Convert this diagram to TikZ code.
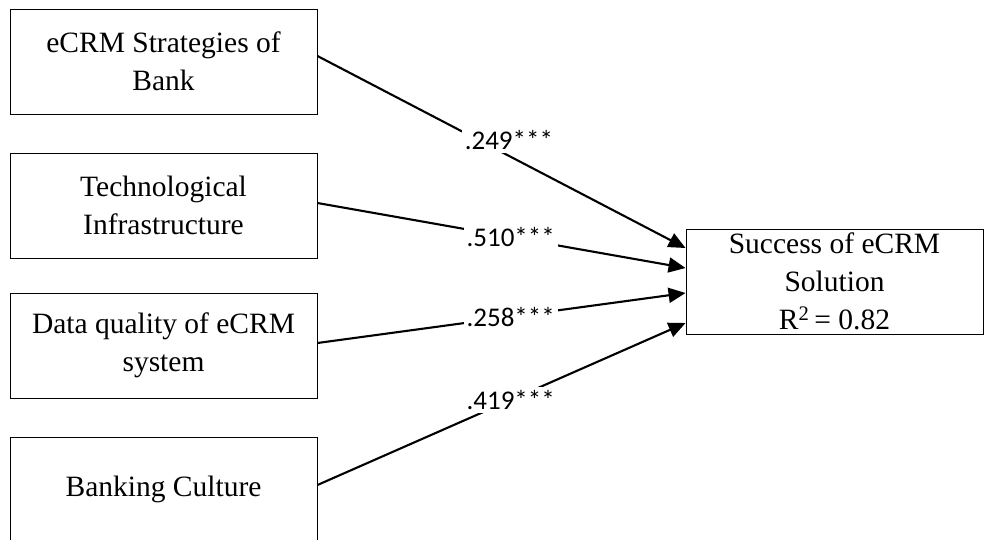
\documentclass[tikz,border=0pt]{standalone}
\usepackage{fontspec}
\setmainfont{Liberation Serif}
\newfontfamily\weightfont{Carlito}
\usetikzlibrary{arrows.meta,positioning}

\begin{document}
\begin{tikzpicture}[
x=1pt,y=-1pt,
MyBoxes/.style={draw,line width=0.9pt,minimum width=307pt,minimum height=105pt,inner sep=0pt,align=center,font=\fontsize{29.5}{38}\selectfont},
Paths/.style={-{Triangle[length=17pt,width=15pt]},line width=2.1pt},
Weights/.style={fill=white,inner sep=3pt,font=\weightfont\fontsize{27}{30}\selectfont}
]
\useasboundingbox (0,0) rectangle (984,540);

% predictors
\node[MyBoxes] (strat) at (163.5,61.5) {eCRM Strategies of\\Bank};
\node[MyBoxes] (tech) at (163.5,205.5) {Technological\\Infrastructure};
\node[MyBoxes] (data) at (163.5,345.5) {Data quality of eCRM\\system};
\node[MyBoxes] (cult) at (163.5,489.5) {Banking Culture};

% outcome
\node[MyBoxes,minimum width=297pt] (succ) at (834.5,281.5) {Success of eCRM\\Solution\\R\textsuperscript{2}\,= 0.82};

% paths with weights
\draw[Paths] ([yshift=5.5pt]strat.east) -- ([yshift=33.5pt]succ.west)
  node[Weights,pos=0.52,yshift=16pt]{.249***};
\draw[Paths] ([yshift=2.5pt]tech.east) -- ([yshift=13.5pt]succ.west)
  node[Weights,pos=0.525]{.510***};
\draw[Paths] ([yshift=2.5pt]data.east) -- ([yshift=-11.5pt]succ.west)
  node[Weights,pos=0.525]{.258***};
\draw[Paths] ([yshift=4.5pt]cult.east) -- ([yshift=-41.5pt]succ.west)
  node[Weights,pos=0.525]{.419***};

\end{tikzpicture}
\end{document}
